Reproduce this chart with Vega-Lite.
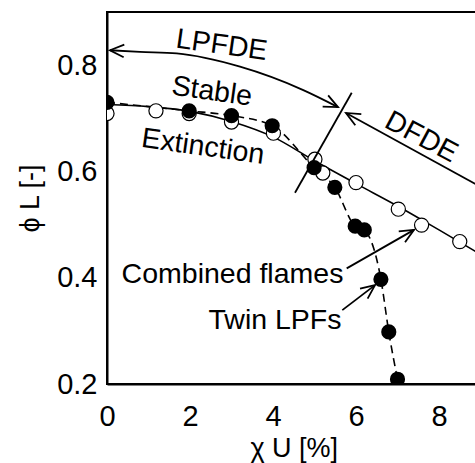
{
  "$schema": "https://vega.github.io/schema/vega-lite/v6.json",
  "width": 373.5,
  "height": 372,
  "autosize": {"type": "none"},
  "padding": {"left": 107, "top": 12, "right": 0, "bottom": 79},
  "config": {
    "font": "Liberation Sans",
    "view": {"stroke": "black", "strokeWidth": 2},
    "axis": {
      "grid": false,
      "ticks": false,
      "tickSize": 0,
      "domainColor": "black",
      "domainWidth": 2,
      "labelColor": "black",
      "labelFontSize": 29,
      "labelOverlap": false,
      "labelFlush": false,
      "titleColor": "black",
      "titleFontSize": 27,
      "titleFontWeight": "normal"
    }
  },
  "datasets": {
    "twin": [
      {"x": 0, "y": 0.730}, {"x": 1.98, "y": 0.714}, {"x": 3.0, "y": 0.705},
      {"x": 3.98, "y": 0.686}, {"x": 4.99, "y": 0.607}, {"x": 5.49, "y": 0.570},
      {"x": 5.98, "y": 0.497}, {"x": 6.2, "y": 0.490}, {"x": 6.6, "y": 0.397},
      {"x": 6.79, "y": 0.298}, {"x": 7.0, "y": 0.209}
    ]
  },
  "encoding": {
    "x": {
      "field": "x",
      "type": "quantitative",
      "scale": {"domain": [0, 9], "nice": false, "zero": false},
      "axis": {
        "values": [0, 2, 4, 6, 8],
        "labelPadding": 18,
        "title": "χ U [%]",
        "titlePadding": 4
      }
    },
    "y": {
      "field": "y",
      "type": "quantitative",
      "scale": {"domain": [0.2, 0.9], "nice": false, "zero": false},
      "axis": {
        "values": [0.2, 0.4, 0.6, 0.8],
        "format": ".1f",
        "labelPadding": 10,
        "title": "ϕ L [-]",
        "titlePadding": 12
      }
    }
  },
  "layer": [
    {
      "description": "Inward major ticks on the x axis",
      "data": {"values": [{"x": 0}, {"x": 2}, {"x": 4}, {"x": 6}, {"x": 8}]},
      "mark": {"type": "rule", "color": "black", "strokeWidth": 2},
      "encoding": {"y": {"datum": 0.2}, "y2": {"datum": 0.215}}
    },
    {
      "description": "Inward minor ticks on the x axis",
      "data": {"values": [{"x": 1}, {"x": 3}, {"x": 5}, {"x": 7}]},
      "mark": {"type": "rule", "color": "black", "strokeWidth": 2},
      "encoding": {"y": {"datum": 0.2}, "y2": {"datum": 0.2075}}
    },
    {
      "description": "Inward major ticks on the y axis",
      "data": {"values": [{"y": 0.4}, {"y": 0.6}, {"y": 0.8}]},
      "mark": {"type": "rule", "color": "black", "strokeWidth": 2},
      "encoding": {"x": {"datum": 0}, "x2": {"datum": 0.17}}
    },
    {
      "description": "Inward minor ticks on the y axis",
      "data": {"values": [{"y": 0.3}, {"y": 0.5}, {"y": 0.7}]},
      "mark": {"type": "rule", "color": "black", "strokeWidth": 2},
      "encoding": {"x": {"datum": 0}, "x2": {"datum": 0.096}}
    },
    {
      "description": "Fitted extinction limit (solid curve)",
      "data": {"values": [
        {"x": 0, "y": 0.726}, {"x": 1, "y": 0.722}, {"x": 2, "y": 0.713},
        {"x": 3, "y": 0.694}, {"x": 4, "y": 0.665}, {"x": 5, "y": 0.620},
        {"x": 6, "y": 0.577}, {"x": 7, "y": 0.535}, {"x": 8, "y": 0.490},
        {"x": 9, "y": 0.444}
      ]},
      "mark": {"type": "line", "color": "black", "strokeWidth": 1.6, "interpolate": "monotone", "clip": true}
    },
    {
      "description": "Twin LPF stability limit (dashed curve)",
      "data": {"name": "twin"},
      "mark": {"type": "line", "color": "black", "strokeWidth": 1.6, "strokeDash": [8, 5], "interpolate": "monotone", "clip": true}
    },
    {
      "description": "Combined flames extinction (open circles)",
      "data": {"values": [
        {"x": 0, "y": 0.709}, {"x": 1.18, "y": 0.714}, {"x": 1.98, "y": 0.709},
        {"x": 3.0, "y": 0.693}, {"x": 4.01, "y": 0.672}, {"x": 5.01, "y": 0.623},
        {"x": 5.2, "y": 0.597}, {"x": 6.0, "y": 0.579}, {"x": 7.02, "y": 0.529},
        {"x": 7.58, "y": 0.499}, {"x": 8.5, "y": 0.468}
      ]},
      "mark": {"type": "point", "shape": "circle", "filled": true, "fill": "white", "stroke": "black", "strokeWidth": 1.2, "size": 200, "opacity": 1, "clip": true}
    },
    {
      "description": "Twin LPF extinction (filled circles)",
      "data": {"name": "twin"},
      "mark": {"type": "circle", "color": "black", "size": 230, "opacity": 1, "clip": true}
    },
    {
      "description": "LPFDE span (curved double arrow)",
      "data": {"values": [
        {"x": 0.072, "y": 0.828}, {"x": 0.795, "y": 0.825}, {"x": 1.68, "y": 0.822},
        {"x": 3.205, "y": 0.797}, {"x": 4.73, "y": 0.753}, {"x": 5.566, "y": 0.721}
      ]},
      "mark": {"type": "line", "color": "black", "strokeWidth": 1.8, "interpolate": "monotone"}
    },
    {
      "description": "Straight annotation segments",
      "data": {"values": [
        {"part": "boundary", "x": 5.897, "y": 0.748, "x2": 4.53, "y2": 0.56},
        {"part": "DFDE", "x": 5.759, "y": 0.71, "x2": 9.0, "y2": 0.571},
        {"part": "Combined flames", "x": 5.776, "y": 0.4176, "x2": 7.398, "y2": 0.49},
        {"part": "Twin LPFs", "x": 5.67, "y": 0.339, "x2": 6.458, "y2": 0.386}
      ]},
      "mark": {"type": "rule", "color": "black", "strokeWidth": 1.8, "clip": true},
      "encoding": {"x2": {"field": "x2"}, "y2": {"field": "y2"}}
    },
    {
      "data": {"values": [{"x": 0.072, "y": 0.828}]},
      "mark": {"type": "point", "shape": "M-1,-0.45L0,0L-1,0.45", "filled": false, "stroke": "black", "strokeWidth": 1.8, "size": 784, "opacity": 1, "angle": 183}
    },
    {
      "data": {"values": [{"x": 5.566, "y": 0.721}]},
      "mark": {"type": "point", "shape": "M-1,-0.45L0,0L-1,0.45", "filled": false, "stroke": "black", "strokeWidth": 1.8, "size": 784, "opacity": 1, "angle": 26}
    },
    {
      "data": {"values": [{"x": 5.759, "y": 0.71}]},
      "mark": {"type": "point", "shape": "M-1,-0.45L0,0L-1,0.45", "filled": false, "stroke": "black", "strokeWidth": 1.8, "size": 784, "opacity": 1, "angle": 208.5}
    },
    {
      "data": {"values": [{"x": 7.398, "y": 0.49}]},
      "mark": {"type": "point", "shape": "M-1,-0.45L0,0L-1,0.45", "filled": false, "stroke": "black", "strokeWidth": 1.8, "size": 784, "opacity": 1, "angle": 330}
    },
    {
      "data": {"values": [{"x": 6.458, "y": 0.386}]},
      "mark": {"type": "point", "shape": "M-1,-0.45L0,0L-1,0.45", "filled": false, "stroke": "black", "strokeWidth": 1.8, "size": 784, "opacity": 1, "angle": 323}
    },
    {
      "data": {"values": [{"label": "LPFDE", "x": 2.763, "y": 0.838}]},
      "mark": {"type": "text", "fontSize": 28.5, "color": "black", "align": "center", "baseline": "middle", "angle": 8},
      "encoding": {"text": {"field": "label"}}
    },
    {
      "data": {"values": [{"label": "Stable", "x": 2.53, "y": 0.751}, {"label": "Extinction", "x": 2.313, "y": 0.647}]},
      "mark": {"type": "text", "fontSize": 28.5, "color": "black", "align": "center", "baseline": "middle", "angle": 8},
      "encoding": {"text": {"field": "label"}}
    },
    {
      "data": {"values": [{"label": "DFDE", "x": 7.58, "y": 0.665}]},
      "mark": {"type": "text", "fontSize": 28.5, "color": "black", "align": "center", "baseline": "middle", "angle": 28},
      "encoding": {"text": {"field": "label"}}
    },
    {
      "data": {"values": [{"label": "Combined flames", "x": 3.024, "y": 0.407}, {"label": "Twin LPFs", "x": 4.048, "y": 0.321}]},
      "mark": {"type": "text", "fontSize": 28.5, "color": "black", "align": "center", "baseline": "middle"},
      "encoding": {"text": {"field": "label"}}
    }
  ]
}
